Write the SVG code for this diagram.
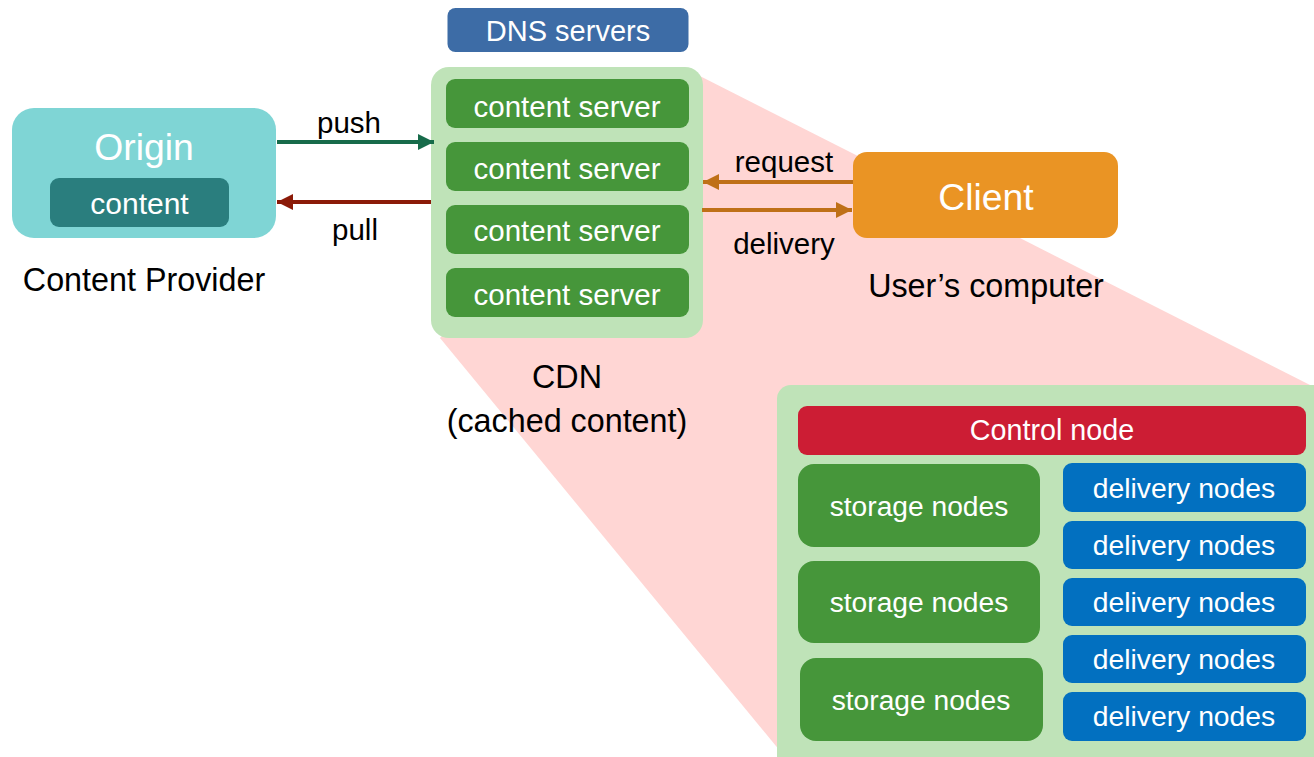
<svg xmlns="http://www.w3.org/2000/svg" width="1314" height="757" viewBox="0 0 1314 757">
<style>
text{font-family:"Liberation Sans",Arial,sans-serif;text-anchor:middle;font-size:28.200px}
.w{fill:#fff}.k{fill:#000}
.cs{fill:#46963a}.dn{fill:#0270c0}.bg{fill:#bfe3b8}
.c{fill:none;stroke-width:4}
.sv{font-size:29.500px}.lg{font-size:32.300px}.hd{font-size:37.300px}.ar{font-size:29.500px}.dl{font-size:28.300px}
</style>
<defs>
<marker id="hg" markerUnits="userSpaceOnUse" markerWidth="16" markerHeight="16" refX="16" refY="8" orient="auto"><path d="M0 0L16 8L0 16Z" fill="#176b4a"/></marker>
<marker id="hr" markerUnits="userSpaceOnUse" markerWidth="16" markerHeight="16" refX="16" refY="8" orient="auto"><path d="M0 0L16 8L0 16Z" fill="#8b1a08"/></marker>
<marker id="ho" markerUnits="userSpaceOnUse" markerWidth="16" markerHeight="16" refX="16" refY="8" orient="auto"><path d="M0 0L16 8L0 16Z" fill="#bf7017"/></marker>
</defs>
<polygon id="zoom-wedge" points="690,71 1314,387 1314,757 785,757 440,338" fill="#ffd6d4"/>
<g id="origin"><rect x="12" y="108" width="264" height="130" rx="22" fill="#7fd5d5"/><text class="w hd" x="144" y="160">Origin</text>
<rect x="50" y="178" width="179" height="49" rx="9" fill="#2a7e7e"/><text class="w" x="139.500" y="214" style="font-size:30px">content</text></g>
<g id="dns"><rect x="447.500" y="8" width="241" height="44" rx="8" fill="#3d6ca6"/><text class="w" x="568" y="41" style="font-size:29px">DNS servers</text></g>
<g id="cdn"><rect class="bg" x="431" y="67" width="272" height="271" rx="18"/>
<rect class="cs" x="446" y="79" width="243" height="49" rx="9"/><text class="w sv" x="567" y="116.500">content server</text>
<rect class="cs" x="446" y="142" width="243" height="49" rx="9"/><text class="w sv" x="567" y="178.500">content server</text>
<rect class="cs" x="446" y="205" width="243" height="49" rx="9"/><text class="w sv" x="567" y="240.500">content server</text>
<rect class="cs" x="446" y="268" width="243" height="49" rx="9"/><text class="w sv" x="567" y="304.500">content server</text></g>
<g id="client"><rect x="853" y="152" width="265" height="86" rx="14" fill="#ea9424"/><text class="w hd" x="986" y="210">Client</text></g>
<g id="detail"><rect class="bg" x="777" y="385" width="560" height="400" rx="14"/>
<rect x="798" y="406" width="508" height="49" rx="9" fill="#cc1d34"/><text class="w" x="1052" y="440" style="font-size:28.700px">Control node</text>
<rect class="cs" x="798" y="464" width="242" height="83" rx="16"/><text class="w" x="919" y="516">storage nodes</text>
<rect class="cs" x="798" y="561" width="242" height="82" rx="16"/><text class="w" x="919" y="612">storage nodes</text>
<rect class="cs" x="800" y="658" width="243" height="83" rx="16"/><text class="w" x="921" y="710">storage nodes</text>
<rect class="dn" x="1063" y="463" width="243" height="49" rx="9"/><text class="w dl" x="1184" y="498">delivery nodes</text>
<rect class="dn" x="1063" y="521" width="243" height="48" rx="9"/><text class="w dl" x="1184" y="555">delivery nodes</text>
<rect class="dn" x="1063" y="578" width="243" height="48" rx="9"/><text class="w dl" x="1184" y="612">delivery nodes</text>
<rect class="dn" x="1063" y="635" width="243" height="48" rx="9"/><text class="w dl" x="1184" y="669">delivery nodes</text>
<rect class="dn" x="1063" y="692" width="243" height="49" rx="9"/><text class="w dl" x="1184" y="726">delivery nodes</text></g>
<g id="connectors">
<line class="c" x1="277" y1="142" x2="434" y2="142" stroke="#176b4a" marker-end="url(#hg)"/>
<line class="c" x1="431" y1="202" x2="277" y2="202" stroke="#8b1a08" marker-end="url(#hr)"/>
<line class="c" x1="853" y1="182" x2="703" y2="182" stroke="#bf7017" marker-end="url(#ho)"/>
<line class="c" x1="702" y1="210" x2="852" y2="210" stroke="#bf7017" marker-end="url(#ho)"/>
</g>
<g id="labels">
<text class="k ar" x="349" y="132.500">push</text><text class="k ar" x="355" y="239.500">pull</text>
<text class="k ar" x="784" y="171.500">request</text><text class="k ar" x="784" y="253.500">delivery</text>
<text class="k lg" x="144" y="290.500">Content Provider</text>
<text class="k lg" x="986" y="296.500">User’s computer</text>
<text class="k lg" x="567" y="388">CDN</text>
<text class="k lg" x="567" y="432">(cached content)</text>
</g>
</svg>
